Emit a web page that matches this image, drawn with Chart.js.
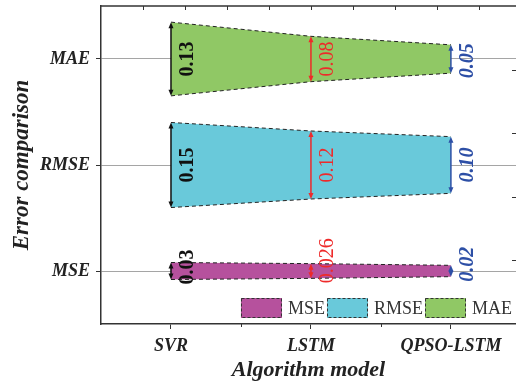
<!DOCTYPE html>
<html lang="en">
<head>
<meta charset="UTF-8">
<title>Error comparison</title>
<script src="https://cdn.jsdelivr.net/npm/chart.js@4.4.0/dist/chart.umd.min.js"></script>
<style>
  html, body { margin: 0; padding: 0; background: #fff; }
  #wrap { width: 516px; height: 385px; }
</style>
</head>
<body>
<div id="wrap"><canvas id="chart"></canvas></div>
<script>
// data
const models = ['SVR', 'LSTM', 'QPSO-LSTM'];
const metrics = ['MSE', 'RMSE', 'MAE'];
const mseValues = [0.03, 0.026, 0.02];
const rmseValues = [0.15, 0.12, 0.10];
const maeValues = [0.13, 0.08, 0.05];

const seriesValues = [mseValues, rmseValues, maeValues];
const seriesColors = ['#b6519d', '#69c9da', '#90c865'];
const arrowColors = ['#111111', '#ee2a2a', '#2d4fa6'];
const labelFonts = ['bold 20px', '20px', 'italic bold 20px'];

const SERIF = '"Liberation Serif", "Times New Roman", serif';
const HALF = 2.675; // half band height (y units) per unit of error

function fmt(v) {
    const s = String(v);
    return s.split('.')[1].length < 2 ? v.toFixed(2) : s;
}

// one upper + one lower edge per metric, filled between them
const datasets = [];
seriesValues.forEach((vals, i) => {
    const line = {
        borderColor: '#222',
        borderWidth: 1,
        borderDash: [4, 3],
        pointRadius: 0,
        tension: 0
    };
    datasets.push(Object.assign({}, line, {
        label: metrics[i] + ' upper',
        data: vals.map((v, j) => ({ x: j + 1, y: i + 1 + v * HALF })),
        fill: false
    }));
    datasets.push(Object.assign({}, line, {
        label: metrics[i],
        data: vals.map((v, j) => ({ x: j + 1, y: i + 1 - v * HALF })),
        fill: '-1',
        backgroundColor: seriesColors[i]
    }));
});

function drawArrow(ctx, px, top, bot, color) {
    const head = 6, w = 2.5;
    ctx.strokeStyle = color;
    ctx.fillStyle = color;
    ctx.lineWidth = 1.5;
    ctx.beginPath();
    ctx.moveTo(px, top + head - 1);
    ctx.lineTo(px, bot - head + 1);
    ctx.stroke();
    ctx.beginPath();
    ctx.moveTo(px, top);
    ctx.lineTo(px - w, top + head);
    ctx.lineTo(px + w, top + head);
    ctx.closePath();
    ctx.fill();
    ctx.beginPath();
    ctx.moveTo(px, bot);
    ctx.lineTo(px - w, bot - head);
    ctx.lineTo(px + w, bot - head);
    ctx.closePath();
    ctx.fill();
}

const decor = {
    id: 'decor',
    afterDatasetsDraw(chart) {
        const { ctx, chartArea: a, scales: { x, y } } = chart;
        ctx.save();

        // top frame line with inward ticks, right edge ticks, bottom minor ticks
        ctx.strokeStyle = '#333';
        ctx.lineWidth = 1.5;
        ctx.beginPath();
        ctx.moveTo(a.left, a.top);
        ctx.lineTo(a.right, a.top);
        ctx.stroke();
        ctx.lineWidth = 1;
        ctx.beginPath();
        for (let k = 1; 0.5 + 0.3 * k < x.max; k++) {
            const px = Math.round(x.getPixelForValue(0.5 + 0.3 * k)) + 0.5;
            ctx.moveTo(px, a.top);
            ctx.lineTo(px, a.top + 4);
        }
        for (let k = 1; 0.5 + 0.6 * k < y.max; k++) {
            const py = Math.round(y.getPixelForValue(0.5 + 0.6 * k)) + 0.5;
            ctx.moveTo(a.right, py);
            ctx.lineTo(a.right - 4, py);
        }
        [1.5, 2.5].forEach(v => {
            const px = Math.round(x.getPixelForValue(v)) + 0.5;
            ctx.moveTo(px, a.bottom);
            ctx.lineTo(px, a.bottom + 3);
        });
        ctx.stroke();

        // arrows + value labels
        seriesValues.forEach((vals, i) => {
            vals.forEach((v, j) => {
                const px = x.getPixelForValue(j + 1);
                const top = y.getPixelForValue(i + 1 + v * HALF);
                const bot = y.getPixelForValue(i + 1 - v * HALF);
                drawArrow(ctx, px, top, bot, arrowColors[j]);

                const text = fmt(v);
                ctx.font = labelFonts[j] + ' ' + SERIF;
                const tw = ctx.measureText(text).width;
                ctx.save();
                ctx.fillStyle = arrowColors[j];
                ctx.textBaseline = 'middle';
                if (tw > bot - top - 4) {
                    ctx.translate(px + 17, bot + 5);
                    ctx.rotate(-Math.PI / 2);
                    ctx.textAlign = 'left';
                } else {
                    ctx.translate(px + 17, (top + bot) / 2);
                    ctx.rotate(-Math.PI / 2);
                    ctx.textAlign = 'center';
                }
                ctx.fillText(text, 0, 0);
                ctx.restore();
            });
        });
        ctx.restore();
    },
    afterDraw(chart) {
        // legend inside the plot, bottom right
        const { ctx, chartArea: a } = chart;
        const boxW = 41, boxH = 20, gap = 6, after = 2;
        ctx.save();
        ctx.font = '18px ' + SERIF;
        const widths = metrics.map(m => ctx.measureText(m).width);
        let total = 0;
        widths.forEach(w => { total += boxW + gap + w + after; });
        let lx = a.right - 4 - total + after;
        const ly = a.bottom - 26;
        metrics.forEach((m, i) => {
            ctx.fillStyle = seriesColors[i];
            ctx.fillRect(lx, ly, boxW, boxH);
            ctx.setLineDash([3, 2]);
            ctx.strokeStyle = '#333';
            ctx.lineWidth = 1;
            ctx.strokeRect(lx + 0.5, ly + 0.5, boxW - 1, boxH - 1);
            ctx.setLineDash([]);
            ctx.fillStyle = '#333';
            ctx.textBaseline = 'middle';
            ctx.textAlign = 'left';
            ctx.fillText(m, lx + boxW + gap, ly + boxH / 2 + 1);
            lx += boxW + gap + widths[i] + after;
        });
        ctx.restore();
    }
};

new Chart(document.getElementById('chart'), {
    type: 'line',
    data: { datasets: datasets },
    plugins: [decor],
    options: {
        responsive: true,
        maintainAspectRatio: false,
        animation: false,
        devicePixelRatio: 1,
        layout: { padding: { top: 6, right: 0, left: 0, bottom: 0 } },
        plugins: {
            legend: { display: false },
            tooltip: { enabled: false }
        },
        scales: {
            x: {
                type: 'linear',
                min: 0.5,
                max: 3.465,
                afterBuildTicks: s => { s.ticks = models.map((m, i) => ({ value: i + 1 })); },
                afterFit: s => { s.height = 61; s.paddingLeft = 0; s.paddingRight = 0; },
                ticks: {
                    callback: v => models[v - 1],
                    autoSkip: false,
                    maxRotation: 0,
                    padding: 7,
                    color: '#222',
                    font: { family: SERIF, size: 18, style: 'italic', weight: 'bold' }
                },
                grid: { drawOnChartArea: false, tickLength: 5, color: '#333' },
                border: { color: '#333', width: 1.5 },
                title: {
                    display: true,
                    text: 'Algorithm model',
                    color: '#222',
                    padding: { top: 0, bottom: 1 },
                    font: { family: SERIF, size: 22, style: 'italic', weight: 'bold' }
                }
            },
            y: {
                type: 'linear',
                min: 0.5,
                max: 3.5,
                afterBuildTicks: s => { s.ticks = metrics.map((m, i) => ({ value: i + 1 })); },
                afterFit: s => { s.width = 101; s.paddingTop = 0; s.paddingBottom = 0; },
                ticks: {
                    callback: v => metrics[v - 1],
                    padding: 6,
                    color: '#222',
                    font: { family: SERIF, size: 18, style: 'italic', weight: 'bold' }
                },
                grid: { color: '#a5a5a5', tickColor: '#333', tickLength: 5 },
                border: { color: '#333', width: 1.5 },
                title: {
                    display: true,
                    text: 'Error comparison',
                    color: '#222',
                    padding: { top: 8, bottom: 0 },
                    font: { family: SERIF, size: 23, style: 'italic', weight: 'bold' }
                }
            }
        }
    }
});
</script>
</body>
</html>
